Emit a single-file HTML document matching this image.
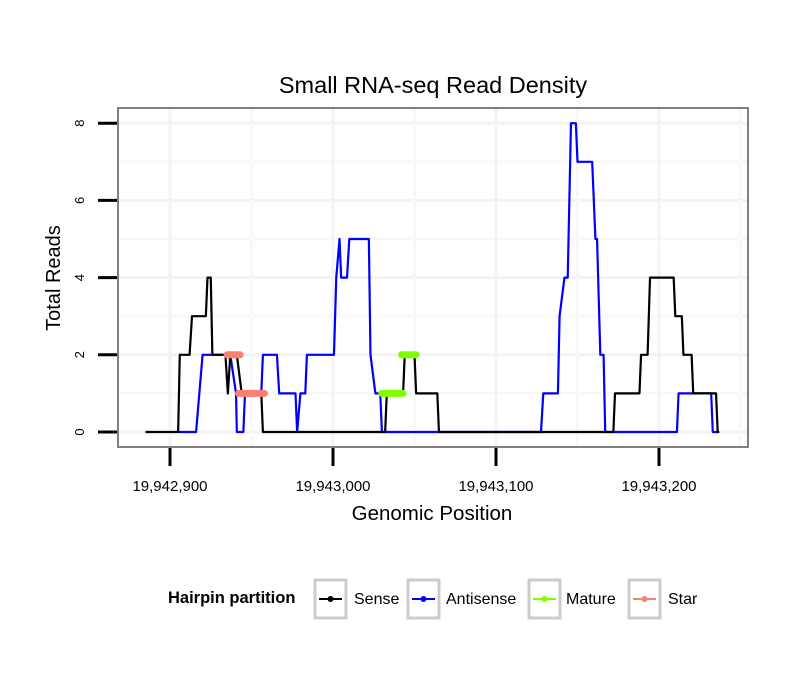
<!DOCTYPE html>
<html><head><meta charset="utf-8"><style>
body{margin:0;background:#fff;}
svg{display:block;font-family:"Liberation Sans",Arial,sans-serif;}
</style></head><body>
<svg id="chart" width="810" height="690" viewBox="0 0 810 690">
<text x="433" y="93" text-anchor="middle" font-size="23.5">Small RNA-seq Read Density</text>
<g id="grid"></g>
<g id="series"></g>
<rect x="118" y="108" width="630" height="339" fill="none" stroke="#808080" stroke-width="2"/>
<g id="axes"></g>
<text x="432" y="520" text-anchor="middle" font-size="20.5">Genomic Position</text>
<text transform="translate(60,278) rotate(-90)" text-anchor="middle" font-size="20">Total Reads</text>
<g>
<text x="168" y="603" font-size="16.5" font-weight="bold">Hairpin partition</text>
<g><rect x="315" y="580" width="31" height="38" fill="#fff" stroke="#cccccc" stroke-width="3"/><line x1="319" y1="599" x2="342" y2="599" stroke="#000" stroke-width="2"/><circle cx="330.5" cy="599" r="3" fill="#000"/><text x="354" y="604" font-size="16">Sense</text></g>
<g><rect x="408" y="580" width="31" height="38" fill="#fff" stroke="#cccccc" stroke-width="3"/><line x1="412" y1="599" x2="435" y2="599" stroke="#0000ff" stroke-width="2"/><circle cx="423.5" cy="599" r="3" fill="#0000ff"/><text x="446" y="604" font-size="16">Antisense</text></g>
<g><rect x="529" y="580" width="31" height="38" fill="#fff" stroke="#cccccc" stroke-width="3"/><line x1="533" y1="599" x2="556" y2="599" stroke="#7fff00" stroke-width="2"/><circle cx="544.5" cy="599" r="3" fill="#7fff00"/><text x="566" y="604" font-size="16">Mature</text></g>
<g><rect x="629" y="580" width="31" height="38" fill="#fff" stroke="#cccccc" stroke-width="3"/><line x1="633" y1="599" x2="656" y2="599" stroke="#fa8072" stroke-width="2"/><circle cx="644.5" cy="599" r="3" fill="#fa8072"/><text x="668" y="604" font-size="16">Star</text></g>
</g>
</svg>
<script>
const BASE = 19942900;
const xTicks = [19942900, 19943000, 19943100, 19943200];
const xTickLabels = ["19,942,900", "19,943,000", "19,943,100", "19,943,200"];
const yTicks = [0, 2, 4, 6, 8];
const senseX = [-15,5,6,12,13.5,22,23,25,26,34,35.5,37,41,44,56,57,132,133,143,144,150,151,164,165,272,273,288,289,293,294.5,309,310,314,315,320,321,335,336,337];
const senseY = [0,0,2,2,3,3,4,4,2,2,1,2,2,1,1,0,0,1,1,2,2,1,1,0,0,1,1,2,2,4,4,3,3,2,2,1,1,0,0];
const antiX = [5,16,18,20,37,40.5,41,45,46,56,57,65.6,67,77,78,80,83,84,100.6,102,104,105,108.6,110,122,123,126,129,130,227.6,229,238,239,242,244,246,249,250,259,261,262,264,266,267,311,312,332,333,336];
const antiY = [0,0,1,2,2,1,0,0,1,1,2,2,1,1,0,1,1,2,2,4,5,4,4,5,5,2,1,1,0,0,1,1,3,4,4,8,8,7,7,5,5,2,2,0,0,1,1,0,0];
const starSegs = [[35,43,2],[42,58,1]];
const matureSegs = [[130,143,1],[142,151,2]];

const NS = "http://www.w3.org/2000/svg";
function xs(v){ return 170 + v * 1.63; }
function xg(g){ return xs(g - BASE); }
function ys(v){ return 432 - v * 38.6; }
function mk(tag, attrs, parent){ const e=document.createElementNS(NS,tag); for(const k in attrs) e.setAttribute(k,attrs[k]); parent.appendChild(e); return e; }

const grid = document.getElementById('grid');
for (let v = 0; v <= 8.5; v += 1) {
  const l = mk('line', {x1:119, x2:747, y1:ys(v), y2:ys(v), stroke: v%2===0 ? '#f3f3f3' : '#f8f8f8', 'stroke-width':3}, grid);
  
  
}
for (let i = 0; i < xTicks.length; i++) {
  for (const off of [0, 50]) {
    const x = xg(xTicks[i] + off);
    if (x > 747) continue;
    const l = mk('line', {x1:x, x2:x, y1:109, y2:446, stroke: off===0 ? '#f3f3f3' : '#f8f8f8', 'stroke-width':3}, grid);
    
    
  }
}

const series = document.getElementById('series');
function line(xsArr, ysArr, color, name){
  const pts = xsArr.map((x,i)=> xs(x)+','+ys(ysArr[i])).join(' ');
  const p = mk('polyline', {points:pts, fill:'none', stroke:color, 'stroke-width':2.2, 'stroke-linejoin':'round'}, series);
  
  
}
line(antiX, antiY, '#0000ff', 'antisense-line');
line(senseX, senseY, '#000000', 'sense-line');
function segs(arr, color, name){
  arr.forEach(s => {
    const l = mk('line', {x1:xs(s[0]), x2:xs(s[1]), y1:ys(s[2]), y2:ys(s[2]), stroke:color, 'stroke-width':7, 'stroke-linecap':'round'}, series);
    
    
  });
}
segs(starSegs, '#fa8072', 'star-segment');
segs(matureSegs, '#7fff00', 'mature-segment');

const axes = document.getElementById('axes');
yTicks.forEach(v => {
  const t = mk('line', {x1:98, x2:117, y1:ys(v), y2:ys(v), stroke:'#000', 'stroke-width':3}, axes);
  
  
  const tx = mk('text', {transform:`translate(84,${ys(v)}) rotate(-90)`, 'text-anchor':'middle', 'font-size':13}, axes);
  tx.textContent = v;
  
  
});
xTicks.forEach((g, i) => {
  const x = xg(g);
  const t = mk('line', {x1:x, x2:x, y1:448, y2:466, stroke:'#000', 'stroke-width':3}, axes);
  
  
  const tx = mk('text', {x:x, y:491, 'text-anchor':'middle', 'font-size':15}, axes);
  tx.textContent = xTickLabels[i];
  
  
});
</script>
</body></html>
